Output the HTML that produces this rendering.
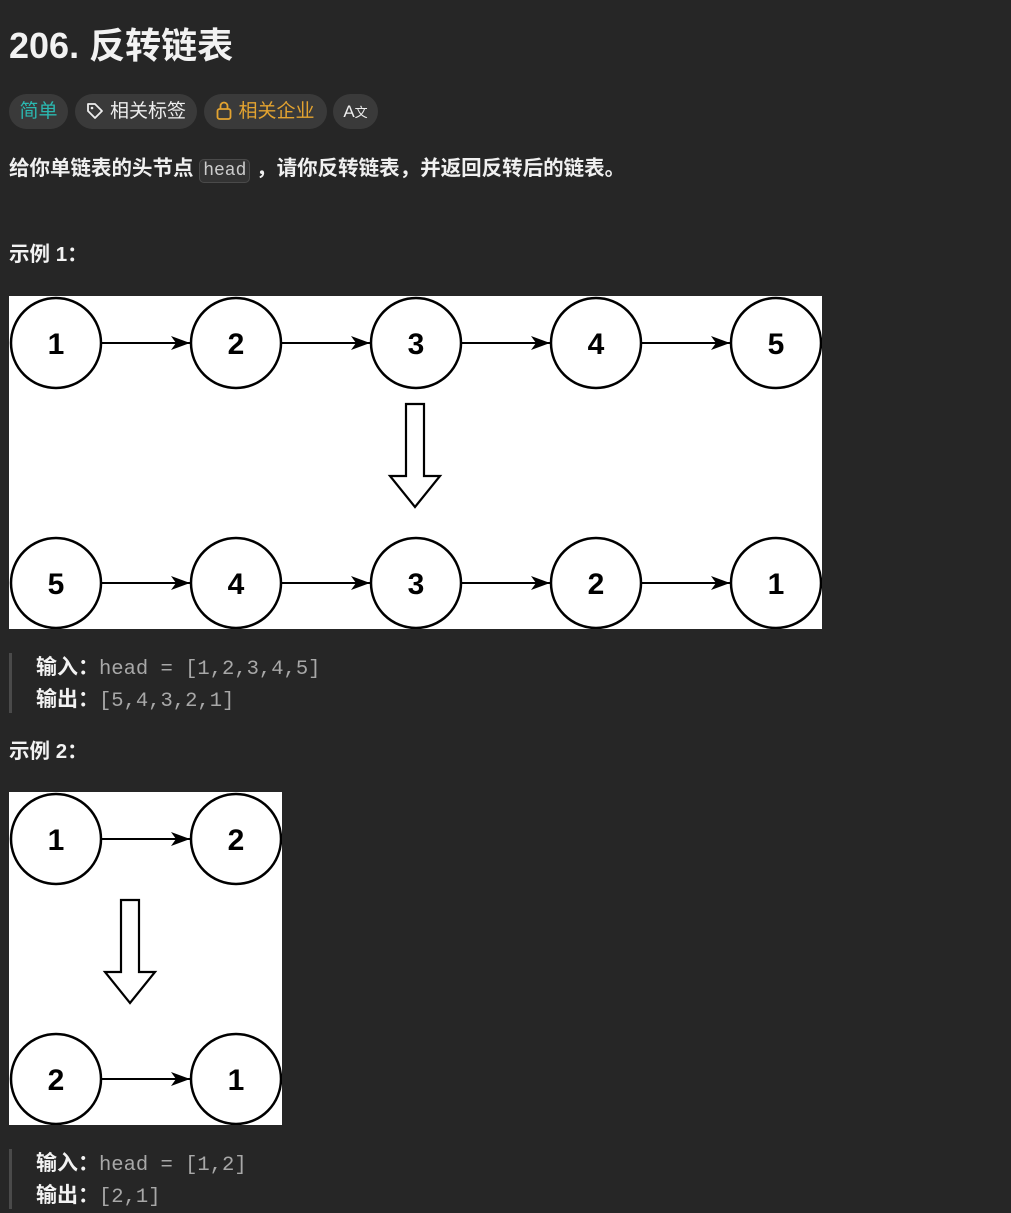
<!DOCTYPE html>
<html><head><meta charset="utf-8"><style>
html,body{margin:0;padding:0;background:#262626;width:1011px;height:1212px;overflow:hidden;font-family:"Liberation Sans","Noto Sans CJK SC",sans-serif;color:#eee}
.a{position:absolute;white-space:nowrap}
.pill{position:absolute;top:94px;height:35px;border-radius:18px;background:#3a3a3a;font-size:19px;line-height:35px;text-align:center}
.b{font-weight:bold;color:#f2f2f2}
.m{font-family:"Liberation Mono",monospace;color:#a8a8a8;font-size:20.5px}
.bar{position:absolute;left:9px;width:3px;background:#4a4a4a}
</style></head><body>
<div class="a b" style="left:9px;top:24px;font-size:36px;line-height:44px">206. 反转链表</div>
<div class="pill" style="left:9px;width:59px;color:#2bb8b0">简单</div>
<div class="pill" style="left:75px;width:122px;color:#eee"><svg width="18" height="18" viewBox="0 0 18 18" style="vertical-align:-3px;margin-right:6px"><path d="M2 2h7l7 7-7 7-7-7z" fill="none" stroke="#eee" stroke-width="1.8" stroke-linejoin="round"/><circle cx="6" cy="6" r="1.3" fill="#eee"/></svg>相关标签</div>
<div class="pill" style="left:204px;width:123px;color:#e3a330"><svg width="16" height="19" viewBox="0 0 16 19" style="vertical-align:-3px;margin-right:6px"><rect x="1.5" y="8" width="13" height="10" rx="2" fill="none" stroke="#e3a330" stroke-width="1.8"/><path d="M4.5 8V5a3.5 3.5 0 0 1 7 0v3" fill="none" stroke="#e3a330" stroke-width="1.8"/></svg>相关企业</div>
<div class="pill" style="left:333px;width:45px;color:#eee;font-size:17px">A<span style="font-size:13px">文</span></div>
<div class="a" style="left:9px;top:155px;font-size:20.5px;line-height:28px;color:#f0f0f0;font-weight:bold">给你单链表的头节点 <span style="font-family:'Liberation Mono',monospace;font-weight:normal;font-size:18px;color:#ccc;background:#333;border:1px solid #4a4a4a;border-radius:5px;padding:1px 3px">head</span> ，请你反转链表，并返回反转后的链表。</div>
<div class="a b" style="left:9px;top:242px;font-size:20.5px;line-height:26px">示例 1：</div>
<svg class="a" style="left:9px;top:296px" width="813" height="333" viewBox="9 296 813 333">
<defs><marker id="ah" markerWidth="20" markerHeight="16" refX="19" refY="8" orient="auto" markerUnits="userSpaceOnUse"><path d="M0 1L19 8L0 15L5 8z" fill="#000"/></marker></defs>
<rect x="9" y="296" width="813" height="333" fill="#fff"/>
<g fill="#fff" stroke="#000" stroke-width="2.5">
<circle cx="56" cy="343" r="45"/><circle cx="236" cy="343" r="45"/><circle cx="416" cy="343" r="45"/><circle cx="596" cy="343" r="45"/><circle cx="776" cy="343" r="45"/>
<circle cx="56" cy="583" r="45"/><circle cx="236" cy="583" r="45"/><circle cx="416" cy="583" r="45"/><circle cx="596" cy="583" r="45"/><circle cx="776" cy="583" r="45"/>
<path d="M406 404H424V476H440L415 507L390 476H406Z" stroke-width="2.2"/>
</g>
<g stroke="#000" stroke-width="2" marker-end="url(#ah)">
<line x1="101" y1="343" x2="190" y2="343"/><line x1="281" y1="343" x2="370" y2="343"/><line x1="461" y1="343" x2="550" y2="343"/><line x1="641" y1="343" x2="730" y2="343"/>
<line x1="101" y1="583" x2="190" y2="583"/><line x1="281" y1="583" x2="370" y2="583"/><line x1="461" y1="583" x2="550" y2="583"/><line x1="641" y1="583" x2="730" y2="583"/>
</g>
<g font-family="Liberation Sans,sans-serif" font-weight="bold" font-size="30" text-anchor="middle" fill="#000">
<text x="56" y="354">1</text><text x="236" y="354">2</text><text x="416" y="354">3</text><text x="596" y="354">4</text><text x="776" y="354">5</text>
<text x="56" y="594">5</text><text x="236" y="594">4</text><text x="416" y="594">3</text><text x="596" y="594">2</text><text x="776" y="594">1</text>
</g></svg>
<div class="bar" style="top:653px;height:60px"></div>
<div class="a" style="left:36px;top:653px;font-size:21px;line-height:30px"><span class="b">输入：</span><span class="m">head = [1,2,3,4,5]</span><br><span class="b">输出：</span><span class="m">[5,4,3,2,1]</span></div>
<div class="a b" style="left:9px;top:739px;font-size:20.5px;line-height:26px">示例 2：</div>
<svg class="a" style="left:9px;top:792px" width="273" height="333" viewBox="9 792 273 333">
<defs><marker id="ah2" markerWidth="20" markerHeight="16" refX="19" refY="8" orient="auto" markerUnits="userSpaceOnUse"><path d="M0 1L19 8L0 15L5 8z" fill="#000"/></marker></defs>
<rect x="9" y="792" width="273" height="333" fill="#fff"/>
<g fill="#fff" stroke="#000" stroke-width="2.5">
<circle cx="56" cy="839" r="45"/><circle cx="236" cy="839" r="45"/>
<circle cx="56" cy="1079" r="45"/><circle cx="236" cy="1079" r="45"/>
<path d="M121 900H139V972H155L130 1003L105 972H121Z" stroke-width="2.2"/>
</g>
<g stroke="#000" stroke-width="2" marker-end="url(#ah2)">
<line x1="101" y1="839" x2="190" y2="839"/><line x1="101" y1="1079" x2="190" y2="1079"/>
</g>
<g font-family="Liberation Sans,sans-serif" font-weight="bold" font-size="30" text-anchor="middle" fill="#000">
<text x="56" y="850">1</text><text x="236" y="850">2</text><text x="56" y="1090">2</text><text x="236" y="1090">1</text>
</g></svg>
<div class="bar" style="top:1149px;height:60px"></div>
<div class="a" style="left:36px;top:1149px;font-size:21px;line-height:30px"><span class="b">输入：</span><span class="m">head = [1,2]</span><br><span class="b">输出：</span><span class="m">[2,1]</span></div>
</body></html>
